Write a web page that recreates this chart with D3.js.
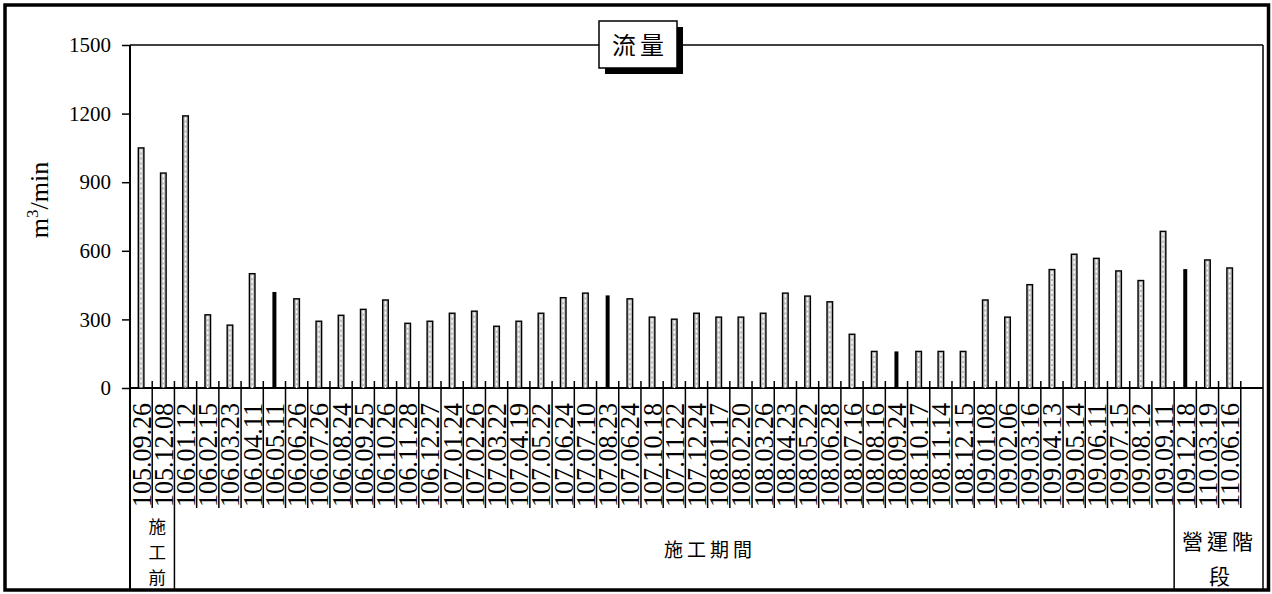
<!DOCTYPE html>
<html>
<head>
<meta charset="utf-8">
<script src="https://cdn.jsdelivr.net/npm/d3@7"></script>
<style>
  body { margin: 0; background: #fff; }
  svg { display: block; }
</style>
</head>
<body>
<div id="chart"></div>
<script>
// Sampling dates (ROC calendar), last slot is an empty spacer
var dates = [
    "105.09.26", "105.12.08", "106.01.12", "106.02.15", "106.03.23", "106.04.11",
    "106.05.11", "106.06.26", "106.07.26", "106.08.24", "106.09.25", "106.10.26",
    "106.11.28", "106.12.27", "107.01.24", "107.02.26", "107.03.22", "107.04.19",
    "107.05.22", "107.06.24", "107.07.10", "107.08.23", "107.06.24 ", "107.10.18",
    "107.11.22", "107.12.24", "108.01.17", "108.02.20", "108.03.26", "108.04.23",
    "108.05.22", "108.06.28", "108.07.16", "108.08.16", "108.09.24", "108.10.17",
    "108.11.14", "108.12.15", "109.01.08", "109.02.06", "109.03.16", "109.04.13",
    "109.05.14", "109.06.11", "109.07.15", "109.08.12", "109.09.11", "109.12.18",
    "110.03.19", "110.06.16", ""
];

// Flow (m3/min)
var flow = [
    1050, 940, 1190, 320, 275, 500,
    420, 390, 292, 318, 344, 385,
    283, 292, 327, 336, 270, 292,
    327, 395, 415, 405, 390, 310,
    301, 327, 310, 310, 327, 415,
    402, 377, 235, 160, 160, 160,
    160, 160, 385, 310, 452, 518,
    585, 567, 512, 470, 685, 520,
    560, 525, null
];

// Dates drawn as solid black bars
var solidDates = ["106.05.11", "107.08.23", "108.09.24", "109.12.18"];

var yTicks = [0, 300, 600, 900, 1200, 1500];

// Stage bands under the date labels
var stageNames = ["施工前", "施工期間", "營運階段"];
var stageStart = [0, 2, 47];
var stageEnd = [2, 47, 51];

var width = 1272, height = 594;
var plotLeft = 130, plotRight = 1263, plotTop = 45, axisY = 388, labelBottom = 508, plotBottom = 590;

var svg = d3.select("#chart").append("svg")
    .attr("width", width)
    .attr("height", height);

var x = d3.scaleBand().domain(d3.range(dates.length)).range([plotLeft, plotRight]).padding(0);
var y = d3.scaleLinear().domain([0, 1500]).range([axisY, plotTop]);
var bw = x.bandwidth();

// outer frame
svg.append("rect")
    .attr("x", 5).attr("y", 5)
    .attr("width", 1263.5).attr("height", plotBottom - 5)
    .attr("fill", "none").attr("stroke", "#000").attr("stroke-width", 3.5);

// plot frame lines
svg.append("line").attr("x1", plotLeft).attr("x2", plotRight).attr("y1", plotTop).attr("y2", plotTop)
    .attr("stroke", "#000").attr("stroke-width", 1.5);
svg.append("line").attr("x1", plotRight).attr("x2", plotRight).attr("y1", plotTop).attr("y2", plotBottom)
    .attr("stroke", "#000").attr("stroke-width", 1.5);
svg.append("line").attr("x1", plotLeft).attr("x2", plotLeft).attr("y1", plotTop).attr("y2", plotBottom)
    .attr("stroke", "#000").attr("stroke-width", 2);
svg.append("line").attr("x1", plotLeft).attr("x2", plotRight).attr("y1", axisY).attr("y2", axisY)
    .attr("stroke", "#000").attr("stroke-width", 2);

// y axis
var yAxis = d3.axisLeft(y).tickValues(yTicks).tickFormat(d3.format("d")).tickSize(8).tickPadding(11);
var yg = svg.append("g").attr("transform", "translate(" + plotLeft + ",0)").call(yAxis);
yg.select(".domain").remove();
yg.selectAll(".tick line").attr("stroke", "#000").attr("stroke-width", 1.5);
yg.selectAll(".tick text")
    .attr("font-family", "'Liberation Serif', serif")
    .attr("font-size", "21px")
    .attr("fill", "#000");

// y title
svg.append("text")
    .attr("transform", "translate(48,200) rotate(-90)")
    .attr("text-anchor", "middle")
    .attr("font-family", "'Liberation Serif', serif")
    .attr("font-size", "26px")
    .attr("fill", "#000")
    .call(function(t) {
        t.append("tspan").text("m");
        t.append("tspan").attr("font-size", "17px").attr("dy", "-10").text("3");
        t.append("tspan").attr("dy", "10").text("/min");
    });

// category separators: tick above axis, divider through the label band
var bounds = d3.range(1, dates.length);
svg.append("g").selectAll("line")
    .data(bounds)
    .enter().append("line")
    .attr("x1", d => x(d)).attr("x2", d => x(d))
    .attr("y1", axisY - 7)
    .attr("y2", d => stageStart.indexOf(d) >= 0 ? plotBottom : labelBottom)
    .attr("stroke", "#000").attr("stroke-width", 1.5);

// bars
var barData = flow.map((v, i) => ({ i: i, v: v, solid: solidDates.indexOf(dates[i]) >= 0 }))
    .filter(d => d.v != null);

var bars = svg.append("g").selectAll("g")
    .data(barData)
    .enter().append("g");

bars.append("rect")
    .attr("x", d => x(d.i) + bw / 2 - (d.solid ? 2 : 2.8))
    .attr("width", d => d.solid ? 4 : 5.6)
    .attr("y", d => y(d.v))
    .attr("height", d => y(0) - y(d.v))
    .attr("fill", d => d.solid ? "#000" : "#bdbdbd")
    .attr("stroke", "#000")
    .attr("stroke-width", d => d.solid ? 0 : 1.4);

bars.filter(d => !d.solid).append("line")
    .attr("x1", d => x(d.i) + bw / 2).attr("x2", d => x(d.i) + bw / 2)
    .attr("y1", d => y(d.v) + 1.5)
    .attr("y2", y(0))
    .attr("stroke", "#fff")
    .attr("stroke-width", 1.4)
    .attr("stroke-dasharray", "3,2");

// date labels
svg.append("g").selectAll("text")
    .data(dates.map((d, i) => ({ d: d.trim(), i: i })).filter(o => o.d !== ""))
    .enter().append("text")
    .attr("transform", o => "translate(" + (x(o.i) + bw / 2 + 9.5) + "," + (labelBottom - 1) + ") rotate(-90)")
    .attr("text-anchor", "start")
    .attr("font-family", "'Liberation Serif', serif")
    .attr("font-size", "27px")
    .attr("textLength", 104)
    .attr("lengthAdjust", "spacingAndGlyphs")
    .attr("fill", "#000")
    .text(o => o.d);

// stage labels
var cjk = "'Noto Sans CJK TC', 'Noto Sans CJK SC', sans-serif";
function stageX(k) { return (x(stageStart[k]) + (stageEnd[k] < dates.length ? x(stageEnd[k]) : plotRight)) / 2; }

// 施工前, stacked vertically
svg.append("g").selectAll("text")
    .data(stageNames[0].split(""))
    .enter().append("text")
    .attr("x", stageX(0) + 5)
    .attr("y", (c, j) => 533 + j * 25.5)
    .attr("text-anchor", "middle")
    .attr("font-family", cjk).attr("font-size", "17.5px").attr("fill", "#000")
    .text(c => c);

// 施工期間
svg.append("text")
    .attr("x", 710).attr("y", 557)
    .attr("text-anchor", "middle")
    .attr("font-family", cjk).attr("font-size", "19px")
    .attr("letter-spacing", "4px")
    .attr("fill", "#000")
    .text(stageNames[1]);

// 營運階 / 段
svg.append("text")
    .attr("x", stageX(2) + 1).attr("y", 549)
    .attr("text-anchor", "middle")
    .attr("font-family", cjk).attr("font-size", "21px")
    .attr("letter-spacing", "4px")
    .attr("fill", "#000")
    .text(stageNames[2].slice(0, 3));
svg.append("text")
    .attr("x", stageX(2) + 1).attr("y", 584)
    .attr("text-anchor", "middle")
    .attr("font-family", cjk).attr("font-size", "21px")
    .attr("fill", "#000")
    .text(stageNames[2].slice(3));

// title box with drop shadow
svg.append("rect")
    .attr("x", 605).attr("y", 27).attr("width", 78).attr("height", 47)
    .attr("fill", "#000");
svg.append("rect")
    .attr("x", 599).attr("y", 21).attr("width", 78).attr("height", 47)
    .attr("fill", "#fff").attr("stroke", "#000").attr("stroke-width", 1.5);
svg.append("text")
    .attr("x", 640).attr("y", 54)
    .attr("text-anchor", "middle")
    .attr("font-family", cjk).attr("font-size", "24px")
    .attr("letter-spacing", "4px")
    .attr("fill", "#000")
    .text("流量");
</script>
</body>
</html>
